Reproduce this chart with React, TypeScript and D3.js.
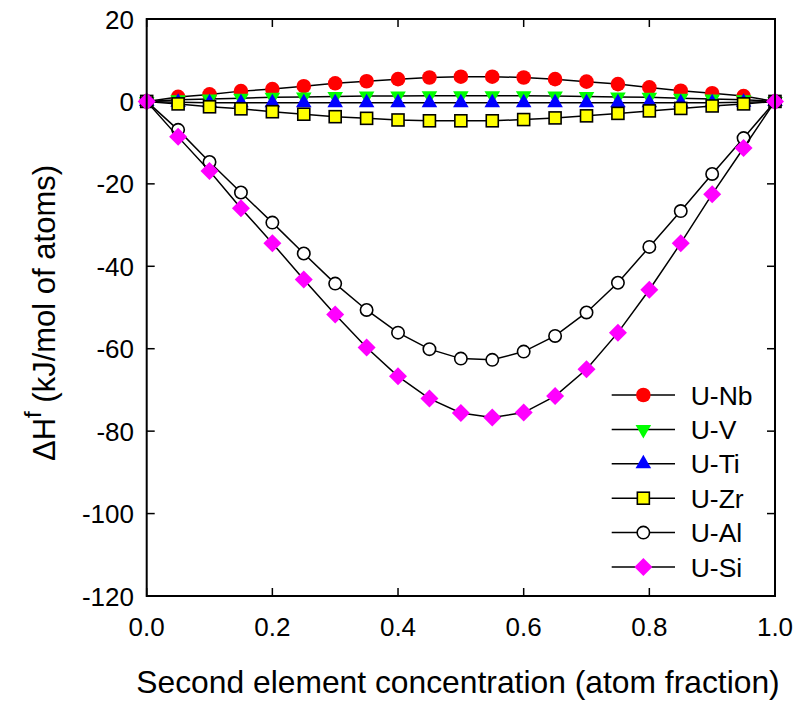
import React from "react";
import * as d3 from "d3";

// composition (atom fraction of the second element)
const conc = [0, 0.05, 0.1, 0.15, 0.2, 0.25, 0.3, 0.35, 0.4, 0.45, 0.5, 0.55, 0.6, 0.65, 0.7, 0.75, 0.8, 0.85, 0.9, 0.95, 1.0];

// enthalpy of formation, kJ/mol of atoms
const uNb = [0, 1.1, 1.7, 2.5, 3.0, 3.7, 4.4, 4.9, 5.4, 5.8, 6.0, 6.0, 5.8, 5.4, 4.8, 4.2, 3.4, 2.6, 2.0, 1.3, 0];
const uV = [0, 0.4, 0.6, 0.8, 1.0, 1.1, 1.2, 1.3, 1.3, 1.4, 1.4, 1.4, 1.4, 1.3, 1.2, 1.1, 1.0, 0.8, 0.6, 0.4, 0];
const uTi = [0, -0.2, -0.3, -0.3, -0.3, -0.3, -0.3, -0.3, -0.3, -0.3, -0.3, -0.3, -0.3, -0.3, -0.3, -0.3, -0.3, -0.3, -0.3, -0.2, 0];
const uZr = [0, -0.6, -1.3, -1.8, -2.5, -3.1, -3.7, -4.1, -4.5, -4.7, -4.7, -4.7, -4.4, -4.0, -3.5, -2.9, -2.3, -1.7, -1.1, -0.6, 0];
const uAl = [0, -6.9, -14.7, -22.1, -29.4, -36.9, -44.2, -50.6, -56.1, -60.1, -62.4, -62.7, -60.7, -56.9, -51.2, -44.0, -35.3, -26.6, -17.6, -8.9, 0];
const uSi = [0, -8.6, -16.9, -25.9, -34.4, -43.2, -51.7, -59.7, -66.7, -72.1, -75.6, -76.7, -75.5, -71.5, -65.0, -56.1, -45.7, -34.4, -22.5, -11.3, 0];

const seriesNames = ["U-Nb", "U-V", "U-Ti", "U-Zr", "U-Al", "U-Si"];
const seriesValues = [uNb, uV, uTi, uZr, uAl, uSi];

const xTicks = [0, 0.2, 0.4, 0.6, 0.8, 1.0];
const yTicks = [20, 0, -20, -40, -60, -80, -100, -120];

const W = 799;
const H = 703;
const left = 146.7, right = 775, top = 19, bottom = 596;
const font = "'Liberation Sans', Arial, Helvetica, sans-serif";

const x = d3.scaleLinear().domain([0, 1]).range([left, right]);
const y = d3.scaleLinear().domain([-120, 20]).range([bottom, top]);

// marker drawing, one per series
const Marker = ({ kind, cx, cy }: { kind: number; cx: number; cy: number }) => {
  const t = `translate(${cx},${cy})`;
  switch (kind) {
    case 0:
      return <circle cx={cx} cy={cy} r={7.3} fill="#ff0000" />;
    case 1: {
      // down triangle, centroid centred
      const p = d3.symbol(d3.symbolTriangle, 105)();
      return <path d={p || ""} transform={`${t} rotate(180)`} fill="#00ff00" />;
    }
    case 2: {
      const p = d3.symbol(d3.symbolTriangle, 105)();
      return <path d={p || ""} transform={t} fill="#0000ff" />;
    }
    case 3:
      return <rect x={cx - 6} y={cy - 6} width={12} height={12} fill="#ffff00" stroke="#000" strokeWidth={1.6} />;
    case 4:
      return <circle cx={cx} cy={cy} r={6.2} fill="#fff" stroke="#000" strokeWidth={1.6} />;
    default: {
      const s = 9;
      return <path d={`M0,${-s}L${s},0L0,${s}L${-s},0Z`} transform={t} fill="#ff00ff" />;
    }
  }
};

export default function App() {
  const line = d3
    .line<number>()
    .x((_, i) => x(conc[i]))
    .y((d) => y(d));

  const tickLen = 8;
  const legendX0 = 611.7, legendX1 = 675, legendText = 690.7;
  const legendY = d3.scalePoint<string>().domain(seriesNames).range([395, 567]);

  return (
    <div style={{ position: "absolute", left: 0, top: 0 }}>
      <svg width={W} height={H} style={{ display: "block", background: "#fff" }} fontFamily={font}>
        {/* ticks, inward on all four sides */}
        <g stroke="#000" strokeWidth={1.5}>
          {xTicks.map((t) => (
            <g key={"x" + t}>
              <line x1={x(t)} x2={x(t)} y1={bottom} y2={bottom - tickLen} />
              <line x1={x(t)} x2={x(t)} y1={top} y2={top + tickLen} />
            </g>
          ))}
          {yTicks.map((t) => (
            <g key={"y" + t}>
              <line x1={left} x2={left + tickLen} y1={y(t)} y2={y(t)} />
              <line x1={right} x2={right - tickLen} y1={y(t)} y2={y(t)} />
            </g>
          ))}
        </g>

        {/* series: line then symbols */}
        {seriesValues.map((vals, k) => (
          <g key={seriesNames[k]}>
            <path d={line(vals) || ""} fill="none" stroke="#000" strokeWidth={1.5} />
            {vals.map((v, i) => (
              <Marker key={i} kind={k} cx={x(conc[i])} cy={y(v)} />
            ))}
          </g>
        ))}

        <rect x={left} y={top} width={right - left} height={bottom - top} fill="none" stroke="#000" strokeWidth={2} />

        {/* tick labels */}
        {xTicks.map((t) => (
          <text key={"xl" + t} x={x(t)} y={636} fontSize={26} textAnchor="middle" fill="#000">
            {t.toFixed(1)}
          </text>
        ))}
        {yTicks.map((t) => (
          <text key={"yl" + t} x={134} y={y(t) + 9.5} fontSize={26} textAnchor="end" fill="#000">
            {t}
          </text>
        ))}

        {/* axis titles */}
        <text x={458} y={693} fontSize={31.8} textAnchor="middle" fill="#000">
          Second element concentration (atom fraction)
        </text>
        <text transform={`translate(55,313) rotate(-90)`} fontSize={31} textAnchor="middle" fill="#000">
          ΔH<tspan fontSize={24} dy={-14}>f</tspan>
          <tspan dy={14}> (kJ/mol of atoms)</tspan>
        </text>

        {/* legend */}
        {seriesNames.map((name, k) => {
          const ly = legendY(name) || 0;
          return (
            <g key={"lg" + name}>
              <line x1={legendX0} x2={legendX1} y1={ly} y2={ly} stroke="#000" strokeWidth={1.5} />
              <Marker kind={k} cx={(legendX0 + legendX1) / 2} cy={ly} />
              <text x={legendText} y={ly + 9.5} fontSize={26.5} fill="#000">
                {name}
              </text>
            </g>
          );
        })}
      </svg>
    </div>
  );
}
